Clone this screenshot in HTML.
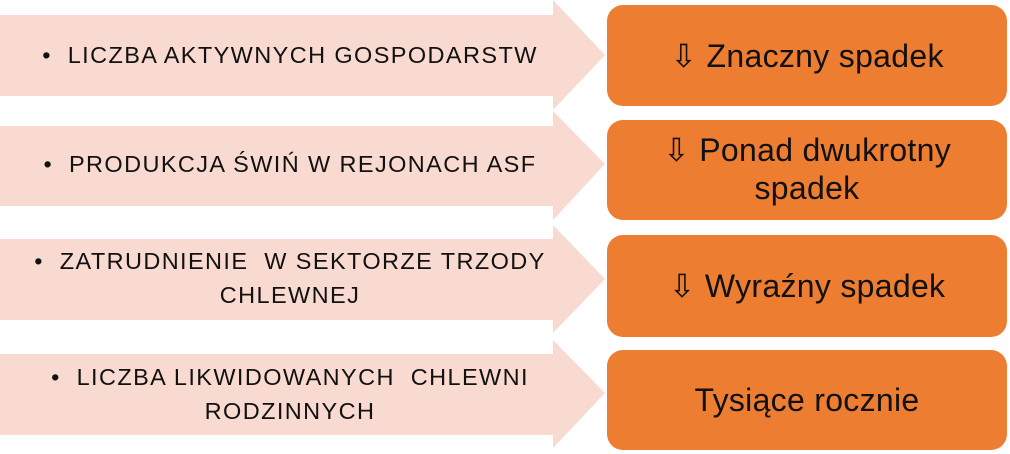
<!DOCTYPE html>
<html><head><style>
body{margin:0;width:1010px;height:454px;background:#fff;position:relative;overflow:hidden;font-family:"Liberation Sans",sans-serif}
svg{position:absolute;left:0;top:0}
.l{position:absolute;left:0px;width:580px;text-align:center;font-size:23.5px;letter-spacing:1.4px;color:#111;line-height:34px}
.r{position:absolute;left:607px;width:400px;background:#ED7D31;border-radius:16px;display:flex;align-items:center;justify-content:center;text-align:center;font-size:32px;letter-spacing:0.3px;line-height:38px;color:#111}
</style></head><body>
<svg width="1010" height="454">
<g fill="#F9DAD1">
<polygon points="0,15 553,15 553,0 605,55 553,110 553,96 0,96"/>
<polygon points="0,126 553,126 553,111 605,164 553,220 553,206 0,206"/>
<polygon points="0,239 553,239 553,225 605,279 553,333 553,320 0,320"/>
<polygon points="0,354 553,354 553,340 605,393 553,448 553,435 0,435"/>
</g>
</svg>
<div class="l" style="top:38px">•&nbsp; LICZBA AKTYWNYCH GOSPODARSTW</div>
<div class="l" style="top:147px">•&nbsp; PRODUKCJA ŚWIŃ W REJONACH ASF</div>
<div class="l" style="top:244px">•&nbsp; ZATRUDNIENIE&nbsp; W SEKTORZE TRZODY<br>CHLEWNEJ</div>
<div class="l" style="top:360px">•&nbsp; LICZBA LIKWIDOWANYCH&nbsp; CHLEWNI<br>RODZINNYCH</div>
<div class="r" style="top:5px;height:101px">⇩ Znaczny spadek</div>
<div class="r" style="top:120px;height:100px;align-items:flex-start;padding-top:11px;box-sizing:border-box">⇩ Ponad dwukrotny<br>spadek</div>
<div class="r" style="top:235px;height:102px">⇩ Wyraźny spadek</div>
<div class="r" style="top:350px;height:100px">Tysiące rocznie</div>
</body></html>
